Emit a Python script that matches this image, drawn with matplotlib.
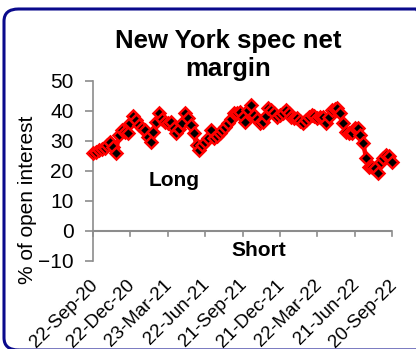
import numpy as np
import pandas as pd
import matplotlib
matplotlib.use('Agg')
import matplotlib.pyplot as plt
from matplotlib.patches import FancyBboxPatch

plt.rcParams['font.family'] = ['Liberation Sans', 'DejaVu Sans']

# weekly net spec position, % of open interest
start_date = '2020-09-22'
net_margin = [26.1, 26.3, 27.0, 27.2, 27.7, 28.8, 29.8, 28.0, 26.0, 32.0,
              33.7, 33.0, 32.6, 36.0, 38.3, 37.0, 35.3, 34.5, 33.7, 31.4,
              29.8, 33.0, 36.4, 39.2, 37.5, 36.5, 35.9, 36.4, 34.3, 32.6,
              34.0, 35.9, 39.2, 37.6, 35.3, 32.6, 28.7, 27.0, 28.7, 29.8,
              30.9, 33.7, 30.9, 31.8, 32.6, 33.8, 34.8, 35.9, 37.5, 39.2,
              39.5, 39.8, 38.0, 36.4, 40.3, 42.0, 38.7, 37.3, 35.9, 36.4,
              38.5, 40.9, 40.3, 39.5, 38.1, 38.6, 39.2, 40.3, 39.2, 38.1,
              37.8, 37.6, 36.8, 35.9, 37.0, 38.1, 38.7, 38.2, 37.6, 37.9,
              38.1, 35.9, 38.0, 40.3, 40.6, 40.9, 39.2, 35.9, 33.1, 32.8,
              32.6, 34.2, 34.2, 32.0, 29.2, 24.2, 21.4, 21.2, 21.0, 19.4,
              23.1, 24.2, 25.3, 25.0, 23.1]
dates = pd.date_range(start_date, periods=len(net_margin), freq='7D')

tick_labels = ['22-Sep-20', '22-Dec-20', '23-Mar-21', '22-Jun-21', '21-Sep-21',
               '21-Dec-21', '22-Mar-22', '21-Jun-22', '20-Sep-22']
tick_dates = pd.to_datetime(tick_labels, format='%d-%b-%y')
y_ticks = [-10, 0, 10, 20, 30, 40, 50]

W, H = 416, 349
fig = plt.figure(figsize=(W / 100, H / 100), dpi=100)

def fx(px):
    return px / W

def fy(py):
    return 1 - py / H

# rounded frame around the whole chart
frame = FancyBboxPatch((fx(4), fy(350)), fx(430) - fx(4), fy(9) - fy(350),
                       boxstyle='round,pad=0,rounding_size=0.035',
                       transform=fig.transFigure, facecolor='none',
                       edgecolor='#0a0a8c', linewidth=2.2, clip_on=False)
fig.patches.append(frame)

ax = fig.add_axes([fx(93), fy(261), fx(392) - fx(93), fy(81) - fy(261)])
ax.plot(dates, net_margin, color='red', lw=3.2, marker='D', ms=6.5,
        mfc='black', mec='red', mew=1.8, clip_on=False, zorder=3)

ax.set_xlim(tick_dates[0], tick_dates[-1])
ax.set_ylim(-10, 50)
ax.set_yticks(y_ticks)
ax.set_xticks(tick_dates)
ax.set_xticklabels([])

grey = '#8c8c8c'
for s in ['top', 'right', 'bottom']:
    ax.spines[s].set_visible(False)
ax.spines['left'].set_color(grey)
ax.spines['left'].set_linewidth(1.2)
ax.tick_params(axis='y', colors=grey, length=6, width=1.2, labelsize=15,
               labelcolor='black', pad=8)
ax.tick_params(axis='x', length=0)

# horizontal axis sits at zero with ticks hanging below
ax.axhline(0, color=grey, lw=1.5, zorder=1)
for d in tick_dates:
    ax.plot([d, d], [0, -1.7], color=grey, lw=1.2, clip_on=False, zorder=1)

for d, lab in zip(tick_dates, tick_labels):
    ax.annotate(lab, xy=(d, -10), xycoords='data', xytext=(-3, -11),
                textcoords='offset points', rotation=45, ha='right', va='top',
                rotation_mode='anchor', fontsize=13.5)

ax.text(0.27, 0.45, 'Long', transform=ax.transAxes, fontsize=15,
        fontweight='bold', ha='center', va='center')
ax.text(0.555, 0.056, 'Short', transform=ax.transAxes, fontsize=15,
        fontweight='bold', ha='center', va='center')

fig.text(fx(228), fy(55), 'New York spec net\nmargin', ha='center',
         va='center', fontsize=18.5, fontweight='bold', linespacing=1.2)
fig.text(fx(28), fy(200), '% of open interest', rotation=90, ha='center',
         va='center', fontsize=15)

fig.savefig('out.png', dpi=100)
